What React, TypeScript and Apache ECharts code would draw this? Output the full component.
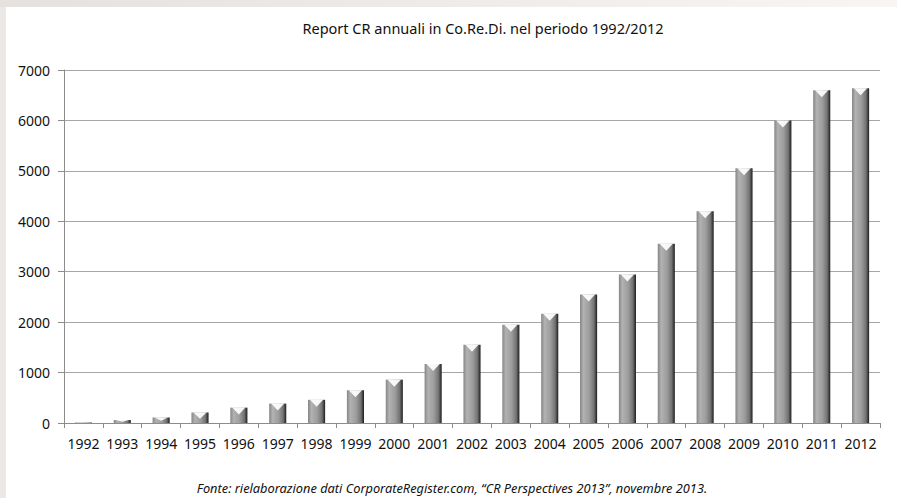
import React, { useEffect, useRef } from "react";
import * as echarts from "echarts";

const years = ["1992","1993","1994","1995","1996","1997","1998","1999","2000","2001","2002","2003","2004","2005","2006","2007","2008","2009","2010","2011","2012"];
const reports = [10, 60, 110, 210, 305, 385, 460, 650, 860, 1170, 1550, 1950, 2165, 2550, 2945, 3555, 4200, 5050, 6000, 6600, 6640];
const yTicks = { min: 0, max: 7000, interval: 1000 };
const titleText = "Report CR annuali in Co.Re.Di. nel periodo 1992/2012";
const sourceText = "Fonte: rielaborazione dati CorporateRegister.com, \u201CCR Perspectives 2013\u201D, novembre 2013.";

export default function App() {
  const ref = useRef<HTMLDivElement>(null);
  useEffect(() => {
    if (!ref.current) return;
    const chart = echarts.init(ref.current, null, { renderer: "svg" });
    const barGrad = new echarts.graphic.LinearGradient(0, 0, 1, 0, [
      { offset: 0, color: "#858585" },
      { offset: 0.2, color: "#b2b2b2" },
      { offset: 0.55, color: "#9c9c9c" },
      { offset: 0.82, color: "#727272" },
      { offset: 1, color: "#1c1c1c" },
    ]);
    chart.setOption({
      animation: false,
      backgroundColor: "#ffffff",
      graphic: [
        { type: "rect", shape: { x: 0, y: 0, width: 6, height: 498 }, style: { fill: "#ebe8e5" }, z: 100 },
        {
          type: "rect",
          shape: { x: 0, y: 0, width: 897, height: 7 },
          style: {
            fill: new echarts.graphic.LinearGradient(0, 0, 1, 0, [
              { offset: 0, color: "#e4e1de" },
              { offset: 1, color: "#f8f5f5" },
            ]),
          },
          z: 100,
        },
        {
          type: "text",
          x: 483,
          y: 28,
          style: { text: titleText, font: "14.5px 'Noto Sans'", fill: "#111111", align: "center", verticalAlign: "middle" },
        },
        {
          type: "text",
          x: 452,
          y: 488,
          style: { text: sourceText, font: "italic 12.8px 'Noto Sans'", fill: "#111111", align: "center", verticalAlign: "middle" },
        },
      ],
      grid: { left: 64, right: 17, top: 70, bottom: 75, containLabel: false },
      xAxis: {
        type: "category",
        data: years,
        axisLine: { lineStyle: { color: "#8c8c8c", width: 1 } },
        axisTick: { show: true, alignWithLabel: false, length: 5, lineStyle: { color: "#8c8c8c" } },
        axisLabel: { color: "#111111", fontFamily: "Noto Sans", fontSize: 14, margin: 13, interval: 0 },
      },
      yAxis: {
        type: "value",
        min: yTicks.min,
        max: yTicks.max,
        interval: yTicks.interval,
        axisLine: { show: true, lineStyle: { color: "#8c8c8c" } },
        axisTick: { show: true, length: 6, lineStyle: { color: "#8c8c8c" } },
        axisLabel: { color: "#111111", fontFamily: "Noto Sans", fontSize: 14, margin: 14, formatter: (v: number) => String(v) },
        splitLine: { lineStyle: { color: "#a6a6a6", width: 1 } },
      },
      series: [
        {
          type: "bar",
          data: reports,
          barWidth: "44%",
          itemStyle: { color: barGrad },
          z: 2,
        },
        {
          type: "custom",
          data: reports.map((v, i) => [i, v]),
          encode: { x: 0, y: 1 },
          z: 3,
          renderItem: (params: any, api: any) => {
            const top = api.coord([api.value(0), api.value(1)]);
            const base = api.coord([api.value(0), 0]);
            const band = api.size([1, 0])[0];
            const w = band * 0.44;
            const h = base[1] - top[1];
            const d = Math.min(7, h * 0.6);
            if (h < 2) return null;
            const l = top[0] - w / 2 + 2;
            const r = top[0] + w / 2 - 2;
            return {
              type: "polygon",
              shape: { points: [[l, top[1]], [r, top[1]], [top[0], top[1] + d]] },
              style: { fill: "rgba(255,255,255,0.92)" },
            };
          },
        },
      ],
    });
    return () => chart.dispose();
  }, []);
  return <div ref={ref} style={{ position: "fixed", left: 0, top: 0, width: 897, height: 498 }} />;
}
